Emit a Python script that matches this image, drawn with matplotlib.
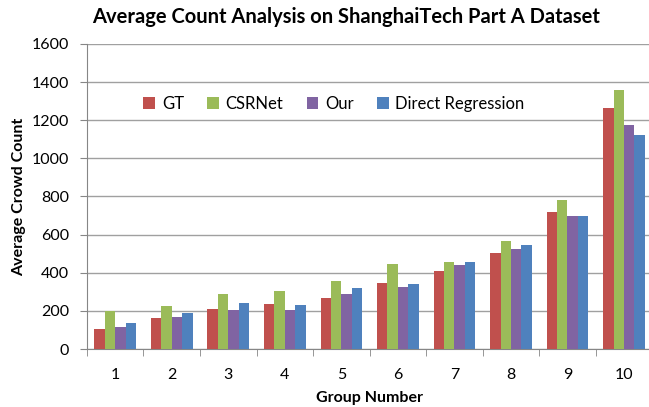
import numpy as np
import matplotlib.pyplot as plt

groups = ['1', '2', '3', '4', '5', '6', '7', '8', '9', '10']
gt = [104, 165, 208, 237, 265, 345, 408, 504, 719, 1265]
csrnet = [200, 226, 288, 305, 356, 446, 457, 568, 780, 1360]
our = [114, 170, 204, 204, 288, 325, 441, 524, 698, 1175]
direct = [137, 188, 242, 232, 321, 340, 457, 547, 698, 1120]

series = [('GT', gt, '#C0504D'), ('CSRNet', csrnet, '#9BBB59'),
          ('Our', our, '#8064A2'), ('Direct Regression', direct, '#4F81BD')]

plt.rcParams['font.family'] = ['Lato', 'DejaVu Sans']

fig, ax = plt.subplots(figsize=(6.49, 4.07), dpi=100)
fig.subplots_adjust(left=0.134, right=1.005, top=0.892, bottom=0.1425)

x = np.arange(len(groups))
w = 0.184
for i, (name, vals, col) in enumerate(series):
    ax.bar(x + (i - 1.5) * w, vals, w, color=col, label=name, zorder=3)

ax.set_xlim(-0.5, len(groups) - 0.5)
ax.set_ylim(0, 1600)
ax.set_yticks(range(0, 1601, 200))
ax.set_xticks(x)
ax.set_xticklabels(groups)
ax.set_xticks(np.arange(-0.5, len(groups), 1), minor=True)
ax.tick_params(axis='x', which='major', length=0, labelsize=11.5, pad=14)
ax.tick_params(axis='x', which='minor', length=5, color='#868686')
ax.tick_params(axis='y', length=5, color='#868686', labelsize=11.5, pad=8)
ax.grid(axis='y', color='#A0A0A0', linewidth=1, zorder=0)
for s in ['top', 'right']:
    ax.spines[s].set_visible(False)
for s in ['left', 'bottom']:
    ax.spines[s].set_color('#868686')

fig.text(0.533, 0.958, 'Average Count Analysis on ShanghaiTech Part A Dataset',
         fontsize=14.5, fontweight='bold', ha='center', va='center')
ax.set_xlabel('Group Number', fontsize=11.5, fontweight='bold', labelpad=6)
ax.set_ylabel('Average Crowd Count', fontsize=11.5, fontweight='bold', labelpad=4)

ax.legend(loc='center', bbox_to_anchor=(0.437, 0.803), ncol=4, frameon=False,
          fontsize=12, handlelength=0.7, handleheight=0.7, handletextpad=0.4,
          columnspacing=1.4)

fig.savefig('out.png', dpi=100)
